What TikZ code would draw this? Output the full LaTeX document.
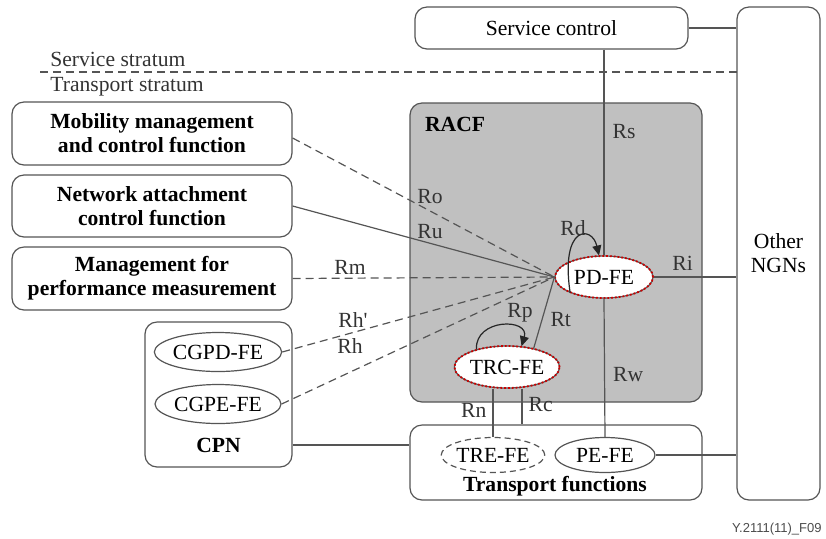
\documentclass[tikz,border=0pt]{standalone}
\usepackage{fontspec}
\setmainfont{Liberation Serif}
\setsansfont{Liberation Sans}
\usetikzlibrary{shapes.geometric,arrows.meta}
\definecolor{linegray}{HTML}{555555}
\definecolor{racfgray}{HTML}{C0C0C0}
\newcommand{\diagfont}{\fontsize{10.8}{12}\selectfont}
\tikzset{
  box/.style={draw=linegray, rounded corners=6pt, line width=0.6pt},
  boldbox/.style={box, align=center, minimum width=140pt, font=\diagfont\bfseries},
  fe/.style={ellipse, draw=linegray, line width=0.6pt, fill=white, minimum width=49pt, minimum height=18pt, inner sep=0pt},
  redfe/.style={fe, minimum height=21pt, postaction={draw=red!80!black, densely dotted, line width=0.9pt}},
  ref/.style={draw=linegray, line width=0.6pt},
  refd/.style={ref, dash pattern=on 4pt off 2.5pt},
  lbl/.style={inner sep=0pt, text=black!80},
}
\begin{document}
\begin{tikzpicture}[x=0.5pt, y=-0.5pt, font=\diagfont]
\useasboundingbox (0,0) rectangle (826,538);
% boxes
\node[box, minimum width=136.5pt, minimum height=21pt] (sc) at (551.5,28) {Service control};
\node[box, minimum width=41.5pt, minimum height=246.5pt, align=center] (ngn) at (778.5,253.5) {Other\\NGNs};
\draw[refd] (40,72) coordinate (strl) -- (737,72) coordinate (strr);
\node[lbl, anchor=south west] (svc) at (50,67) {Service stratum};
\node[lbl, anchor=north west] (trs) at (50,77) {Transport stratum};
\node[boldbox, minimum height=31.5pt] (mob) at (152,133.5) {Mobility management\\and control function};
\node[boldbox, minimum height=31pt] (nac) at (152,206) {Network attachment\\control function};
\node[boldbox, minimum height=31.5pt] (mpm) at (152,278.5) {Management for\\performance measurement};
\node[box, minimum width=73.5pt, minimum height=72.5pt] (cpn) at (218.5,394.5) {};
\node[font=\diagfont\bfseries] (cpnl) at (218.5,445) {CPN};
\node[fe, minimum width=63pt, minimum height=19.5pt] (cgpd) at (218,352) {CGPD-FE};
\node[fe, minimum width=63pt, minimum height=19.5pt] (cgpe) at (218,404) {CGPE-FE};
\node[box, fill=racfgray, minimum width=146pt, minimum height=149.5pt] (racf) at (556,252.5) {};
\node[anchor=north west, font=\diagfont\bfseries] (racfl) at (418,110) {RACF};
\node[box, minimum width=146pt, minimum height=37.5pt] (tf) at (556,462.5) {};
\node[font=\diagfont\bfseries] (tfl) at (555,486) {Transport functions};
% functional entities
\node[redfe] (pd) at (604,277) {PD-FE};
\node[redfe] (trc) at (507,367) {TRC-FE};
\node[fe, dash pattern=on 3pt off 2pt, minimum height=17.5pt] (tre) at (493,455) {TRE-FE};
\node[fe, minimum width=50pt, minimum height=17.5pt] (pe) at (605,455) {PE-FE};
% reference points
\draw[ref] (sc.east) -- (sc.east -| ngn.west);
\draw[ref] (sc.south -| pd.north) -- node[lbl, pos=0.4, right=4pt] (rs) {Rs} (pd.north);
\draw[ref] (pd.south) -- node[lbl, pos=0.55, right=4pt] (rw) {Rw} (pe.north);
\draw[ref] (pd.east) -- node[lbl, pos=0.35, above=3pt] (ri) {Ri} (pd.east -| ngn.west);
\draw[ref] (pe.east) -- (pe.east -| ngn.west);
\draw[ref] (cpn.east |- cpnl) -- (tf.west |- cpnl);
\draw[refd] (mob.east |- 0,138) -- (pd.west);
\draw[ref] (nac.east) -- (pd.west);
\draw[refd] (mpm.east) -- (pd.west);
\draw[refd] (cgpd.east) -- (pd.west);
\draw[refd] (cgpe.east) -- (pd.west);
\node[lbl] (ro) at (430,197) {Ro};
\node[lbl] (ru) at (430,232) {Ru};
\node[lbl] (rm) at (350,267) {Rm};
\node[lbl] (rhp) at (353,320) {Rh\textquotesingle};
\node[lbl] (rh) at (350,346) {Rh};
\draw[ref] (trc.35) -- node[lbl, pos=0.4, right=4pt] (rt) {Rt} (pd.west);
\draw[ref] (trc.south -| 493,0) -- node[lbl, pos=0.45, left=3pt] (rn) {Rn} (tre.north);
\draw[ref] (trc.south -| 522,0) -- node[lbl, pos=0.45, right=3pt] (rc) {Rc} (tf.north -| 522,0);
\draw[ref, -{Triangle[length=5pt, width=4.5pt]}, black!85] (pd.205) .. controls (560,225) and (592,225) .. (pd.103);
\node[lbl] (rd) at (573,228) {Rd};
\draw[ref, -{Triangle[length=5pt, width=4.5pt]}, black!85] (trc.150) .. controls (475,318) and (530,318) .. (trc.55);
\node[lbl] (rp) at (520,313) {Rp};
\node[lbl, anchor=south east, font=\sffamily\fontsize{6.5}{7}\selectfont, text=black!70] (fig) at (822,536) {Y.2111(11)\_F09};
\end{tikzpicture}
\end{document}
